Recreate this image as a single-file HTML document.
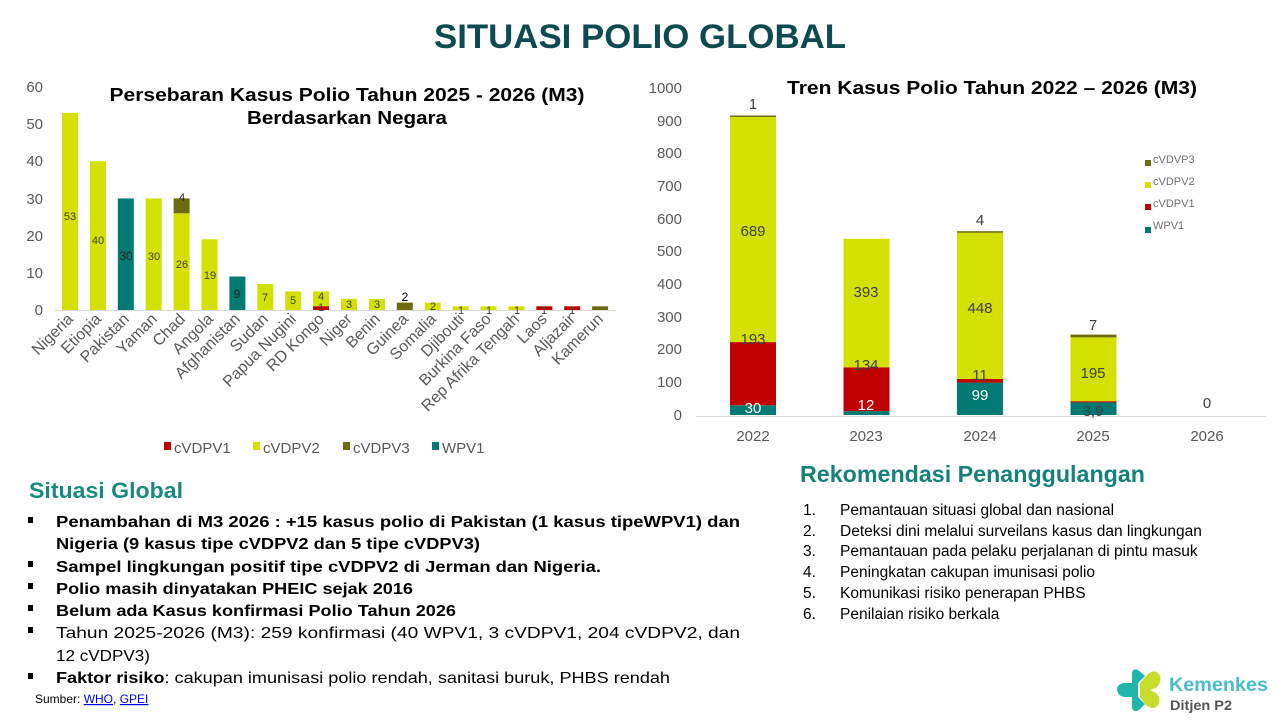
<!DOCTYPE html>
<html><head><meta charset="utf-8"><style>
html,body{margin:0;padding:0;background:#fff;}
svg{display:block;}
text{font-family:"Liberation Sans",sans-serif;}
</style></head><body>
<svg width="1280" height="720" viewBox="0 0 1280 720" xmlns="http://www.w3.org/2000/svg">
<rect width="1280" height="720" fill="#fff"/>
<text x="640" y="48" text-anchor="middle" font-size="34" font-weight="bold" fill="#0d4b50" textLength="412" lengthAdjust="spacingAndGlyphs">SITUASI POLIO GLOBAL</text>

<!-- LEFT CHART -->
<g font-size="15" fill="#595959" text-anchor="end">
<text x="43" y="92">60</text><text x="43" y="129">50</text><text x="43" y="166">40</text>
<text x="43" y="204">30</text><text x="43" y="241">20</text><text x="43" y="278">10</text><text x="43" y="315">0</text>
</g>
<text x="347" y="101" text-anchor="middle" font-size="18" font-weight="bold" fill="#000" textLength="475" lengthAdjust="spacingAndGlyphs">Persebaran Kasus Polio Tahun 2025 - 2026 (M3)</text>
<text x="347" y="124" text-anchor="middle" font-size="18" font-weight="bold" fill="#000" textLength="200" lengthAdjust="spacingAndGlyphs">Berdasarkan Negara</text>
<line x1="55" y1="310.5" x2="615" y2="310.5" stroke="#d9d9d9" stroke-width="1"/>
<g>
<rect x="62" y="112.8" width="16" height="197.2" fill="#d4e000"/>
<rect x="89.9" y="161.2" width="16" height="148.8" fill="#d4e000"/>
<rect x="117.8" y="198.4" width="16" height="111.6" fill="#007a73"/>
<rect x="145.7" y="198.4" width="16" height="111.6" fill="#d4e000"/>
<rect x="173.6" y="213.3" width="16" height="96.7" fill="#d4e000"/>
<rect x="173.6" y="198.4" width="16" height="14.9" fill="#6b6b10"/>
<rect x="201.5" y="239.3" width="16" height="70.7" fill="#d4e000"/>
<rect x="229.4" y="276.5" width="16" height="33.5" fill="#007a73"/>
<rect x="257.3" y="284" width="16" height="26" fill="#d4e000"/>
<rect x="285.2" y="291.4" width="16" height="18.6" fill="#d4e000"/>
<rect x="313.1" y="291.4" width="16" height="14.9" fill="#d4e000"/>
<rect x="313.1" y="306.3" width="16" height="3.7" fill="#c00000"/>
<rect x="341" y="298.8" width="16" height="11.2" fill="#d4e000"/>
<rect x="368.9" y="298.8" width="16" height="11.2" fill="#d4e000"/>
<rect x="396.8" y="302.6" width="16" height="7.4" fill="#6b6b10"/>
<rect x="424.7" y="302.6" width="16" height="7.4" fill="#d4e000"/>
<rect x="452.6" y="306.3" width="16" height="3.7" fill="#d4e000"/>
<rect x="480.5" y="306.3" width="16" height="3.7" fill="#d4e000"/>
<rect x="508.4" y="306.3" width="16" height="3.7" fill="#d4e000"/>
<rect x="536.3" y="306.3" width="16" height="3.7" fill="#c00000"/>
<rect x="564.2" y="306.3" width="16" height="3.7" fill="#c00000"/>
<rect x="592.1" y="306.3" width="16" height="3.7" fill="#6b6b10"/>
</g>
<g font-size="11" fill="#404040" text-anchor="middle">
<text x="70" y="220">53</text><text x="98" y="244">40</text>
<text x="126" y="260" font-size="12" fill="#222">30</text><text x="154" y="260">30</text>
<text x="182" y="268">26</text><text x="182" y="201" fill="#222">4</text>
<text x="210" y="279">19</text><text x="237" y="298" font-size="12" fill="#222">9</text>
<text x="265" y="301">7</text><text x="293" y="304">5</text>
<text x="321" y="300">4</text><text x="321" y="311">1</text>
<text x="349" y="308">3</text><text x="377" y="308">3</text>
<text x="405" y="301" font-size="12" fill="#000">2</text><text x="433" y="310">2</text>
<text x="461" y="314">1</text><text x="489" y="314">1</text><text x="517" y="314">1</text>
<text x="544" y="314">1</text><text x="572" y="314">1</text>
</g>
<g font-size="16" fill="#595959" text-anchor="end">
<text transform="translate(74,320) rotate(-45)">Nigeria</text>
<text transform="translate(102,320) rotate(-45)">Etiopia</text>
<text transform="translate(130,320) rotate(-45)">Pakistan</text>
<text transform="translate(158,320) rotate(-45)">Yaman</text>
<text transform="translate(186,320) rotate(-45)">Chad</text>
<text transform="translate(214,320) rotate(-45)">Angola</text>
<text transform="translate(241,320) rotate(-45)">Afghanistan</text>
<text transform="translate(269,320) rotate(-45)">Sudan</text>
<text transform="translate(297,320) rotate(-45)">Papua Nugini</text>
<text transform="translate(325,320) rotate(-45)">RD Kongo</text>
<text transform="translate(353,320) rotate(-45)">Niger</text>
<text transform="translate(381,320) rotate(-45)">Benin</text>
<text transform="translate(409,320) rotate(-45)">Guinea</text>
<text transform="translate(437,320) rotate(-45)">Somalia</text>
<text transform="translate(465,320) rotate(-45)">Djibouti</text>
<text transform="translate(492,320) rotate(-45)">Burkina Faso</text>
<text transform="translate(520,320) rotate(-45)">Rep Afrika Tengah</text>
<text transform="translate(548,320) rotate(-45)">Laos</text>
<text transform="translate(576,320) rotate(-45)">Aljazair</text>
<text transform="translate(604,320) rotate(-45)">Kamerun</text>
</g>
<g font-size="15" fill="#595959">
<rect x="164" y="442" width="7" height="8" fill="#c00000"/><text x="174" y="453">cVDPV1</text>
<rect x="253" y="442" width="7" height="8" fill="#d4e000"/><text x="263" y="453">cVDPV2</text>
<rect x="343" y="442" width="7" height="8" fill="#6b6b10"/><text x="353" y="453">cVDPV3</text>
<rect x="432" y="442" width="7" height="8" fill="#007a73"/><text x="442" y="453">WPV1</text>
</g>

<!-- RIGHT CHART -->
<g font-size="15" fill="#595959" text-anchor="end">
<text x="682" y="93">1000</text><text x="682" y="126">900</text><text x="682" y="158">800</text>
<text x="682" y="191">700</text><text x="682" y="224">600</text><text x="682" y="256">500</text>
<text x="682" y="289">400</text><text x="682" y="322">300</text><text x="682" y="354">200</text>
<text x="682" y="387">100</text><text x="682" y="420">0</text>
</g>
<text x="992" y="94" text-anchor="middle" font-size="18" font-weight="bold" fill="#000" textLength="410" lengthAdjust="spacingAndGlyphs">Tren Kasus Polio Tahun 2022 – 2026 (M3)</text>
<line x1="696" y1="416.5" x2="1266" y2="416.5" stroke="#d9d9d9" stroke-width="1"/>
<rect x="730" y="405.2" width="46" height="9.8" fill="#007a73"/>
<rect x="730" y="342.1" width="46" height="63.1" fill="#c00000"/>
<rect x="730" y="116.8" width="46" height="225.3" fill="#d4e000"/>
<rect x="730" y="115.5" width="46" height="1.5" fill="#6b6b10"/>
<rect x="843.5" y="411.1" width="46" height="3.9" fill="#007a73"/>
<rect x="843.5" y="367.3" width="46" height="43.8" fill="#c00000"/>
<rect x="843.5" y="238.8" width="46" height="128.5" fill="#d4e000"/>
<rect x="957" y="382.6" width="46" height="32.4" fill="#007a73"/>
<rect x="957" y="379" width="46" height="3.6" fill="#c00000"/>
<rect x="957" y="232.5" width="46" height="146.5" fill="#d4e000"/>
<rect x="957" y="231.2" width="46" height="1.5" fill="#6b6b10"/>
<rect x="1070.5" y="402.2" width="46" height="12.8" fill="#007a73"/>
<rect x="1070.5" y="401.2" width="46" height="1.2" fill="#c00000"/>
<rect x="1070.5" y="337.4" width="46" height="63.8" fill="#d4e000"/>
<rect x="1070.5" y="334.6" width="46" height="2.8" fill="#6b6b10"/>
<g font-size="15" fill="#404040" text-anchor="middle">
<text x="753" y="109">1</text><text x="753" y="236">689</text><text x="753" y="344">193</text>
<text x="753" y="413" fill="#fff">30</text>
<text x="866" y="297">393</text><text x="866" y="370">134</text><text x="866" y="410" fill="#fff">12</text>
<text x="980" y="225">4</text><text x="980" y="313">448</text><text x="980" y="380">11</text><text x="980" y="400" fill="#fff">99</text>
<text x="1093" y="330">7</text><text x="1093" y="378">195</text><text x="1093" y="416">3,9</text>
<text x="1207" y="408">0</text>
</g>
<g font-size="15" fill="#595959" text-anchor="middle">
<text x="753" y="441">2022</text><text x="866" y="441">2023</text><text x="980" y="441">2024</text>
<text x="1093" y="441">2025</text><text x="1207" y="441">2026</text>
</g>
<g font-size="11" fill="#707070">
<rect x="1145" y="160" width="6" height="6" fill="#6b6b10"/><text x="1153" y="163">cVDVP3</text>
<rect x="1145" y="182" width="6" height="6" fill="#d4e000"/><text x="1153" y="185">cVDPV2</text>
<rect x="1145" y="204" width="6" height="6" fill="#c00000"/><text x="1153" y="207">cVDPV1</text>
<rect x="1145" y="227" width="6" height="6" fill="#007a73"/><text x="1153" y="229">WPV1</text>
</g>

<!-- SITUASI GLOBAL -->
<text x="29" y="498" font-size="22" font-weight="bold" fill="#1a8a80" textLength="154" lengthAdjust="spacingAndGlyphs">Situasi Global</text>
<g font-size="16" fill="#000">
<rect x="28" y="517" width="5" height="6"/><rect x="28" y="561" width="5" height="6"/>
<rect x="28" y="583" width="5" height="6"/><rect x="28" y="605" width="5" height="6"/>
<rect x="28" y="627" width="5" height="6"/><rect x="28" y="673" width="5" height="6"/>
<text x="56" y="527" font-weight="bold" textLength="684" lengthAdjust="spacingAndGlyphs">Penambahan di M3 2026 : +15 kasus polio di Pakistan (1 kasus tipeWPV1) dan</text>
<text x="56" y="549" font-weight="bold" textLength="424" lengthAdjust="spacingAndGlyphs">Nigeria (9 kasus tipe cVDPV2 dan 5 tipe cVDPV3)</text>
<text x="56" y="572" font-weight="bold" textLength="545" lengthAdjust="spacingAndGlyphs">Sampel lingkungan positif tipe cVDPV2 di Jerman dan Nigeria.</text>
<text x="56" y="594" font-weight="bold" textLength="357" lengthAdjust="spacingAndGlyphs">Polio masih dinyatakan PHEIC sejak 2016</text>
<text x="56" y="616" font-weight="bold" textLength="400" lengthAdjust="spacingAndGlyphs">Belum ada Kasus konfirmasi Polio Tahun 2026</text>
<text x="56" y="638" textLength="684" lengthAdjust="spacingAndGlyphs">Tahun 2025-2026 (M3): 259 konfirmasi (40 WPV1, 3 cVDPV1, 204 cVDPV2, dan</text>
<text x="56" y="661" textLength="94" lengthAdjust="spacingAndGlyphs">12 cVDPV3)</text>
<text x="56" y="683" textLength="614" lengthAdjust="spacingAndGlyphs"><tspan font-weight="bold">Faktor risiko</tspan>: cakupan imunisasi polio rendah, sanitasi buruk, PHBS rendah</text>
</g>
<text x="35" y="703" font-size="12" fill="#000">Sumber: <tspan fill="#0000ee" text-decoration="underline">WHO</tspan>, <tspan fill="#0000ee" text-decoration="underline">GPEI</tspan></text>

<!-- REKOMENDASI -->
<text x="800" y="482" font-size="23" font-weight="bold" fill="#16807a" textLength="345" lengthAdjust="spacingAndGlyphs">Rekomendasi Penanggulangan</text>
<g font-size="15.5" fill="#000">
<text x="803" y="515">1.</text><text x="840" y="515">Pemantauan situasi global dan nasional</text>
<text x="803" y="536">2.</text><text x="840" y="536">Deteksi dini melalui surveilans kasus dan lingkungan</text>
<text x="803" y="556">3.</text><text x="840" y="556">Pemantauan pada pelaku perjalanan di pintu masuk</text>
<text x="803" y="577">4.</text><text x="840" y="577">Peningkatan cakupan imunisasi polio</text>
<text x="803" y="598">5.</text><text x="840" y="598">Komunikasi risiko penerapan PHBS</text>
<text x="803" y="619">6.</text><text x="840" y="619">Penilaian risiko berkala</text>
</g>

<!-- LOGO -->
<g>
<path d="M1138 670 Q1134 668 1132 672 L1132 683 L1124 683 Q1117 684 1117 690 Q1118 696 1124 697 L1132 697 L1132 708 Q1134 713 1139 710 L1145 704 L1138 697 L1138 683 L1145 676 Z" fill="#1fb5a8"/>
<path d="M1140 683 L1148 674 Q1156 668 1160 676 Q1162 682 1156 688 L1150 690 L1156 693 Q1162 699 1158 705 Q1153 711 1146 705 L1140 697 Z" fill="#c8dc2c"/>
<text x="1169" y="691" font-size="19" font-weight="bold" fill="#4bbccb" textLength="99" lengthAdjust="spacingAndGlyphs">Kemenkes</text>
<text x="1170" y="710" font-size="14" font-weight="bold" fill="#555" textLength="62" lengthAdjust="spacingAndGlyphs">Ditjen P2</text>
</g>
</svg>
</body></html>
